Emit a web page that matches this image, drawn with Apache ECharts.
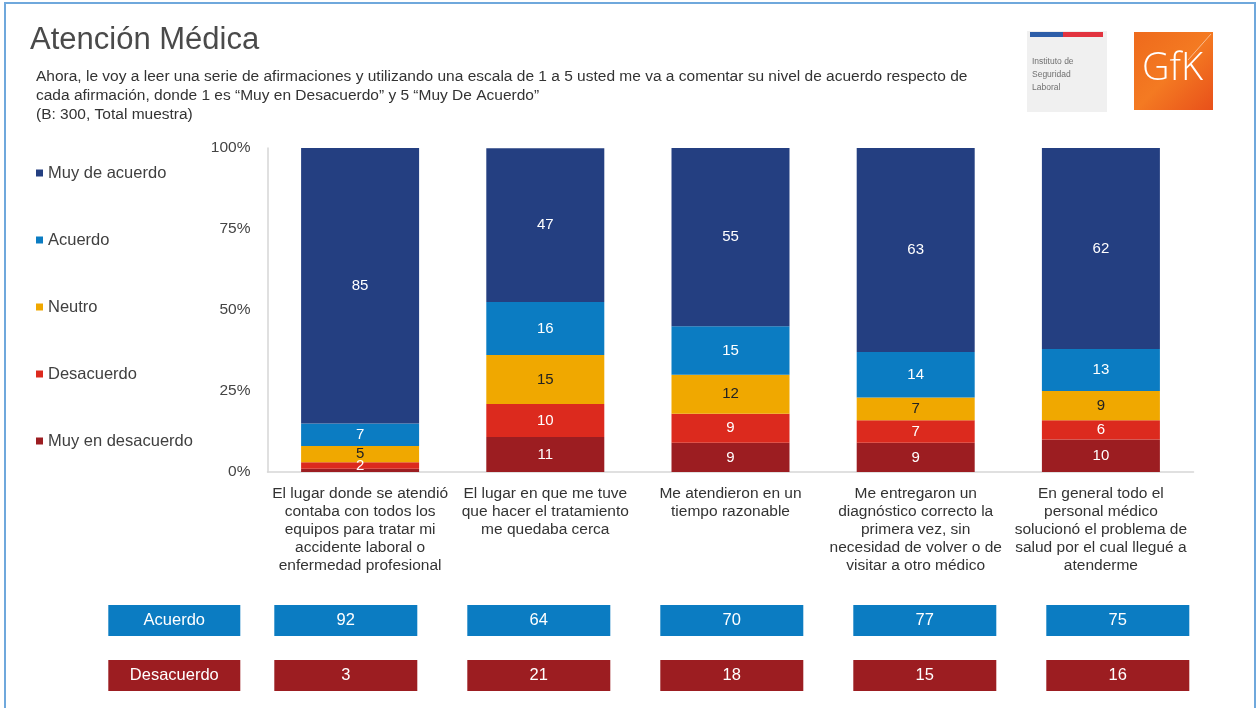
<!DOCTYPE html>
<html>
<head>
<meta charset="utf-8">
<script src="https://cdn.jsdelivr.net/npm/echarts@6/dist/echarts.min.js"></script>
<style>
  html, body { margin: 0; padding: 0; background: #fff; }
  #chart { width: 1260px; height: 708px; }
</style>
</head>
<body>
<div id="chart"></div>
<script>
// categories (statements)
const statements = [
  'El lugar donde se atendió\ncontaba con todos los\nequipos para tratar mi\naccidente laboral o\nenfermedad profesional',
  'El lugar en que me tuve\nque hacer el tratamiento\nme quedaba cerca',
  'Me atendieron en un\ntiempo razonable',
  'Me entregaron un\ndiagnóstico correcto la\nprimera vez, sin\nnecesidad de volver o de\nvisitar a otro médico',
  'En general todo el\npersonal médico\nsolucionó el problema de\nsalud por el cual llegué a\natenderme'
];

// stacked series, bottom to top (labels shown rounded)
const muyEnDesacuerdo = [1, 10.8, 9, 9, 10];
const desacuerdo = [2, 10.2, 9, 7, 6];
const neutro = [5, 15.1, 12, 7, 9];
const acuerdo = [7, 16.4, 15, 14, 13];
const muyDeAcuerdo = [85, 47.4, 55, 63, 62];

// summary rows
const summaryRows = ['Acuerdo', 'Desacuerdo'];
const totalAcuerdo = [92, 64, 70, 77, 75];
const totalDesacuerdo = [3, 21, 18, 15, 16];

const yTicks = [0, 25, 50, 75, 100];

const FONT = '"Liberation Sans", Arial, sans-serif';
const colors = {
  muyEn: '#9c1d21',
  desac: '#dc2a1e',
  neutro: '#f0a800',
  acuerdo: '#0b7cc2',
  muyDe: '#243f81'
};

const chart = echarts.init(document.getElementById('chart'));

const stackSeries = (name, data, color, labelColor) => ({
  name,
  type: 'bar',
  stack: 'total',
  data,
  barWidth: 118,
  itemStyle: { color },
  label: {
    show: true,
    position: 'inside',
    color: labelColor,
    fontFamily: FONT,
    fontSize: 15,
    formatter: p => (p.value >= 2 ? Math.round(p.value) : '')
  },
  emphasis: { disabled: true }
});

const summaryData = [];
totalAcuerdo.forEach((v, i) => summaryData.push([i, 'Acuerdo', v]));
totalDesacuerdo.forEach((v, i) => summaryData.push([i, 'Desacuerdo', v]));

const option = {
  backgroundColor: '#fff',
  animation: false,
  textStyle: { fontFamily: FONT },
  legend: {
    orient: 'vertical',
    left: 36,
    top: 164,
    padding: 0,
    icon: 'rect',
    itemWidth: 7,
    itemHeight: 7,
    itemGap: 49,
    data: ['Muy de acuerdo', 'Acuerdo', 'Neutro', 'Desacuerdo', 'Muy en desacuerdo'],
    textStyle: { fontSize: 16.5, color: '#404040', lineHeight: 18, fontFamily: FONT }
  },
  grid: [
    { left: 267.5, right: 66.5, top: 148, bottom: 236 },
    { left: 249.3, right: 45.7, top: 593, height: 110 }
  ],
  xAxis: [
    {
      type: 'category',
      gridIndex: 0,
      data: statements,
      axisLine: { lineStyle: { color: '#d6d6d6', width: 1.5 } },
      axisTick: { show: false },
      axisLabel: {
        interval: 0,
        margin: 13,
        fontSize: 15.5,
        lineHeight: 18,
        color: '#333',
        fontFamily: FONT
      }
    },
    {
      type: 'category',
      gridIndex: 1,
      data: statements.map((s, i) => i),
      show: false
    }
  ],
  yAxis: [
    {
      type: 'value',
      gridIndex: 0,
      min: 0,
      max: 100,
      interval: 25,
      axisLine: { show: true, lineStyle: { color: '#d6d6d6', width: 1.5 } },
      axisTick: { show: false },
      splitLine: { show: false },
      axisLabel: {
        margin: 17,
        fontSize: 15.5,
        color: '#444',
        fontFamily: FONT,
        formatter: v => (yTicks.includes(v) ? v + '%' : '')
      }
    },
    {
      type: 'category',
      gridIndex: 1,
      data: summaryRows,
      inverse: true,
      axisLine: { show: false },
      axisTick: { show: false },
      axisLabel: {
        margin: 9,
        fontFamily: FONT,
        formatter: v => `{${v === 'Acuerdo' ? 'a' : 'd'}|${v}}`,
        rich: {
          a: { backgroundColor: '#0b7cc2', color: '#fff', width: 132, height: 31, lineHeight: 31, align: 'center', fontSize: 16.5 },
          d: { backgroundColor: '#9c1d21', color: '#fff', width: 132, height: 31, lineHeight: 31, align: 'center', fontSize: 16.5 }
        }
      }
    }
  ],
  series: [
    stackSeries('Muy en desacuerdo', muyEnDesacuerdo, colors.muyEn, '#fff'),
    stackSeries('Desacuerdo', desacuerdo, colors.desac, '#fff'),
    stackSeries('Neutro', neutro, colors.neutro, '#222'),
    stackSeries('Acuerdo', acuerdo, colors.acuerdo, '#fff'),
    stackSeries('Muy de acuerdo', muyDeAcuerdo, colors.muyDe, '#fff'),
    {
      type: 'custom',
      xAxisIndex: 1,
      yAxisIndex: 1,
      data: summaryData,
      encode: { x: 0, y: 1 },
      renderItem: (params, api) => {
        const p = api.coord([api.value(0), api.value(1)]);
        const isAc = params.dataIndex < totalAcuerdo.length;
        return {
          type: 'group',
          children: [
            {
              type: 'rect',
              shape: { x: p[0] - 71.5, y: p[1] - 15.5, width: 143, height: 31 },
              style: { fill: isAc ? '#0b7cc2' : '#9c1d21' }
            },
            {
              type: 'text',
              x: p[0],
              y: p[1],
              style: {
                text: String(api.value(2)),
                fill: '#fff',
                font: '16.5px ' + FONT,
                align: 'center',
                verticalAlign: 'middle'
              }
            }
          ]
        };
      }
    }
  ],
  graphic: [
    // slide frame
    {
      type: 'rect',
      shape: { x: 5, y: 3, width: 1250, height: 720 },
      style: { fill: null, stroke: '#6fa8dc', lineWidth: 2 },
      silent: true
    },
    {
      type: 'text',
      left: 30,
      top: 25,
      style: { text: 'Atención Médica', font: '31px ' + FONT, fill: '#4a4a4a' }
    },
    {
      type: 'text',
      left: 36,
      top: 67,
      style: {
        text: 'Ahora, le voy a leer una serie de afirmaciones y utilizando una escala de 1 a 5 usted me va a comentar su nivel de acuerdo respecto de\ncada afirmación, donde 1 es “Muy en Desacuerdo” y 5 “Muy De Acuerdo”\n(B: 300, Total muestra)',
        font: '15.5px ' + FONT,
        lineHeight: 19,
        fill: '#333'
      }
    },
    // Instituto de Seguridad Laboral logo
    {
      type: 'rect',
      shape: { x: 1027, y: 31, width: 80, height: 81 },
      style: { fill: '#f0f0f0' }
    },
    { type: 'rect', shape: { x: 1030, y: 32, width: 33, height: 5 }, style: { fill: '#2d5ea8' } },
    { type: 'rect', shape: { x: 1063, y: 32, width: 40, height: 5 }, style: { fill: '#e2343f' } },
    {
      type: 'text',
      left: 1032,
      top: 55,
      style: { text: 'Instituto de\nSeguridad\nLaboral', font: '8.5px ' + FONT, lineHeight: 13, fill: '#707070' }
    },
    // GfK logo
    {
      type: 'rect',
      shape: { x: 1134, y: 32, width: 79, height: 78 },
      style: {
        fill: new echarts.graphic.LinearGradient(0, 0, 1, 1, [
          { offset: 0, color: '#ee6a1c' },
          { offset: 0.5, color: '#f47a22' },
          { offset: 1, color: '#e8501a' }
        ])
      }
    },
    {
      type: 'line',
      shape: { x1: 1211, y1: 34, x2: 1188, y2: 60 },
      style: { stroke: 'rgba(255,255,255,0.5)', lineWidth: 1 }
    },
    {
      type: 'text',
      left: 1142,
      top: 50,
      style: { text: 'GfK', font: '300 38px "Open Sans", ' + FONT, fill: '#fff' }
    }
  ]
};

chart.setOption(option);
</script>
</body>
</html>
